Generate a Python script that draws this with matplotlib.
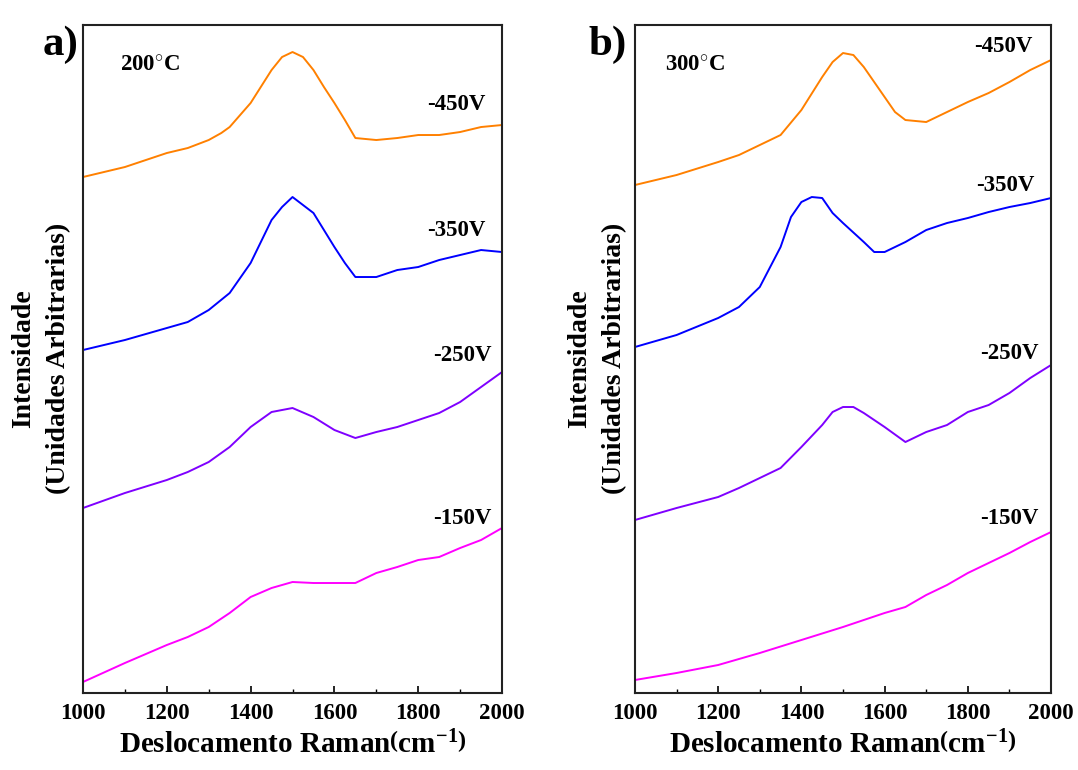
import matplotlib
matplotlib.use("Agg")
import matplotlib.pyplot as plt
from matplotlib.ticker import MultipleLocator

plt.rcParams['font.family'] = ['Liberation Serif', 'DejaVu Serif']
plt.rcParams['font.weight'] = 'bold'
plt.rcParams['mathtext.fontset'] = 'custom'
plt.rcParams['mathtext.rm'] = 'Liberation Serif:bold'
plt.rcParams['mathtext.default'] = 'rm'

# values, offset intensities in arbitrary units
# panel a) 200 C
x_a = [1000, 1100, 1200, 1250, 1300, 1330, 1350, 1400, 1450, 1475, 1500, 1525,
       1550, 1575, 1600, 1625, 1650, 1700, 1750, 1800, 1850, 1900, 1950, 2000]
a_450 = [516, 526, 540, 545, 553, 560, 566, 590, 623, 636, 641, 636,
         623, 606, 590, 573, 555, 553, 555, 558, 558, 561, 566, 568]

x_a2 = [1000, 1100, 1200, 1250, 1300, 1350, 1400, 1450, 1475, 1500, 1525,
        1550, 1600, 1625, 1650, 1700, 1750, 1800, 1850, 1900, 1950, 2000]
a_350 = [343, 353, 365, 371, 383, 400, 430, 473, 486, 496, 488,
         480, 446, 430, 416, 416, 423, 426, 433, 438, 443, 441]

x_a3 = [1000, 1100, 1200, 1250, 1300, 1350, 1400, 1450, 1500, 1550,
        1600, 1650, 1700, 1750, 1800, 1850, 1900, 1950, 2000]
a_250 = [185, 200, 213, 221, 231, 246, 266, 281, 285, 276,
         263, 255, 261, 266, 273, 280, 291, 306, 321]
a_150 = [11, 30, 48, 56, 66, 80, 96, 105, 111, 110,
         110, 110, 120, 126, 133, 136, 145, 153, 165]

# panel b) 300 C
x_b1 = [1000, 1100, 1200, 1250, 1300, 1350, 1400, 1450, 1475, 1500, 1525,
        1550, 1600, 1625, 1650, 1700, 1750, 1800, 1850, 1900, 1950, 2000]
b_450 = [508, 518, 531, 538, 548, 558, 583, 616, 631, 640, 638,
         626, 596, 581, 573, 571, 581, 591, 600, 611, 623, 633]

x_b2 = [1000, 1100, 1200, 1250, 1300, 1350, 1375, 1400, 1425, 1450, 1475,
        1500, 1550, 1575, 1600, 1650, 1700, 1750, 1800, 1850, 1900, 1950, 2000]
b_350 = [346, 358, 375, 386, 406, 446, 476, 491, 496, 495, 480,
         470, 451, 441, 441, 451, 463, 470, 475, 481, 486, 490, 495]

x_b3 = [1000, 1100, 1200, 1250, 1300, 1350, 1400, 1450, 1475, 1500, 1525,
        1550, 1600, 1650, 1700, 1750, 1800, 1850, 1900, 1950, 2000]
b_250 = [173, 185, 196, 205, 215, 225, 246, 268, 281, 286, 286,
         280, 266, 251, 261, 268, 281, 288, 300, 315, 328]

x_b4 = [1000, 1100, 1200, 1300, 1400, 1500, 1600, 1650, 1700, 1750,
        1800, 1850, 1900, 1950, 2000]
b_150 = [13, 20, 28, 40, 53, 66, 80, 86, 98, 108,
         120, 130, 140, 151, 161]

voltages = ["-450V", "-350V", "-250V", "-150V"]
colors = ["#FF8000", "#0000FF", "#7F00FF", "#FF00FF"]

panels = [
    {
        "series": [(x_a, a_450), (x_a2, a_350), (x_a3, a_250), (x_a3, a_150)],
        "label_pos": [(1890, 589), (1890, 463), (1905, 338), (1905, 175)],
        "temp": "200$^{\\circ}$C", "temp_pos": (1160, 627), "letter": "a)",
        "rect": [0.077, 0.100, 0.3887, 0.8675], "letter_xy": (0.056, 0.942),
        "ylab_x": 0.038,
    },
    {
        "series": [(x_b1, b_450), (x_b2, b_350), (x_b3, b_250), (x_b4, b_150)],
        "label_pos": [(1885, 647), (1890, 508), (1900, 340), (1900, 175)],
        "temp": "300$^{\\circ}$C", "temp_pos": (1145, 627), "letter": "b)",
        "rect": [0.589, 0.100, 0.386, 0.8675], "letter_xy": (0.564, 0.942),
        "ylab_x": 0.554,
    },
]

fig = plt.figure(figsize=(10.78, 7.70), dpi=100)

for p in panels:
    ax = fig.add_axes(p["rect"])
    for (xs, ys), c in zip(p["series"], colors):
        ax.plot(xs, ys, color=c, lw=1.4)
    for (lx, ly), v in zip(p["label_pos"], voltages):
        ax.text(lx, ly, v, fontsize=16.5, ha="center", va="center")
    ax.text(p["temp_pos"][0], p["temp_pos"][1], p["temp"], fontsize=16.5,
            ha="center", va="center")

    ax.set_xlim(1000, 2000)
    ax.set_ylim(0, 668)
    ax.xaxis.set_major_locator(MultipleLocator(200))
    ax.xaxis.set_minor_locator(MultipleLocator(100))
    ax.tick_params(axis="x", which="both", direction="in", labelsize=16.5, pad=7)
    ax.tick_params(axis="x", which="major", length=5, width=1.2)
    ax.tick_params(axis="x", which="minor", length=3, width=1.0)
    ax.set_yticks([])
    for s in ax.spines.values():
        s.set_linewidth(1.5)
        s.set_color("#222222")

    ax.text(0.5, -0.078, "Deslocamento Raman$\\left(\\mathrm{cm}^{-1}\\right)$",
            transform=ax.transAxes, fontsize=21, ha="center", va="center")

    fig.text(p["ylab_x"], 0.534, "Intensidade\n(Unidades Arbitrarias)",
             rotation=90, fontsize=20, ha="center", va="center",
             multialignment="center", linespacing=1.5)
    fig.text(p["letter_xy"][0], p["letter_xy"][1], p["letter"], fontsize=31,
             ha="center", va="center")

fig.savefig("out.png", dpi=100)
